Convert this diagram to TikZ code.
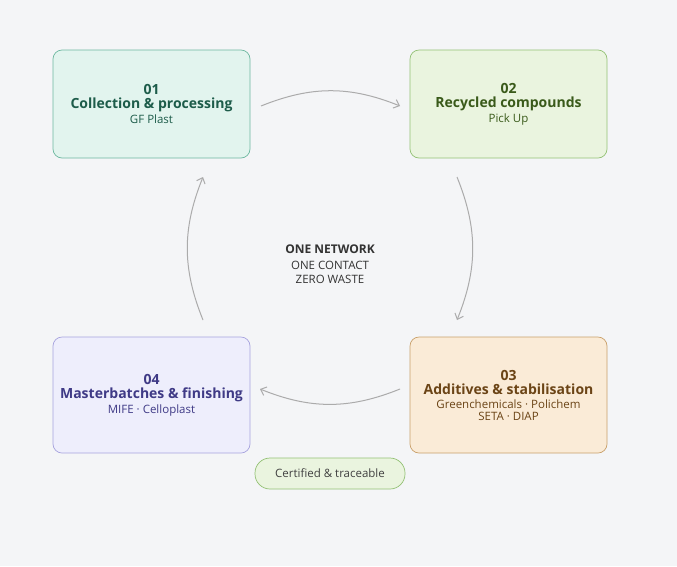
\documentclass[tikz,border=0pt]{standalone}
\usepackage{fontspec}
\setmainfont{Open Sans}
\usetikzlibrary{arrows.meta}
\definecolor{bg}{HTML}{F4F5F7}
\definecolor{fa}{HTML}{E2F4EE}\definecolor{da}{HTML}{6DB8A0}\definecolor{ta}{HTML}{1D5C4A}
\definecolor{fb}{HTML}{EAF4DF}\definecolor{db}{HTML}{93C174}\definecolor{tb}{HTML}{3A5A1A}
\definecolor{fc}{HTML}{FAEBD7}\definecolor{dc}{HTML}{C9A06A}\definecolor{tc}{HTML}{6B4416}
\definecolor{fd}{HTML}{EEEEFC}\definecolor{dd}{HTML}{A7A3DE}\definecolor{td}{HTML}{3F3A86}
\definecolor{arr}{HTML}{ABABAB}
\tikzset{
 card/.style={draw, rounded corners=9pt, minimum width=197pt, align=center, line width=0.7pt, inner sep=0pt},
 flow/.style={draw=arr, line width=1pt, -{Straight Barb[length=5pt,width=9pt]}},
}
\newcommand{\myhead}{\fontsize{14}{20}\selectfont\bfseries}
\newcommand{\mysub}{\fontsize{11.5}{16}\selectfont\mdseries}
\begin{document}
\begin{tikzpicture}[x=1pt,y=-1pt]
\fill[bg] (0,0) rectangle (677,566);
\useasboundingbox (0,0) rectangle (677,566);
\node[card, fill=fa, draw=da, text=ta, minimum height=108pt] (a) at (151.5,104) {\myhead 01\\[2pt]\myhead Collection \& processing\\[2pt]\mysub GF Plast};
\node[card, fill=fb, draw=db, text=tb, minimum height=108pt] (b) at (508.5,104) {\myhead 02\\[2pt]\myhead Recycled compounds\\[2pt]\mysub Pick Up};
\node[card, fill=fc, draw=dc, text=tc, minimum height=116pt] (c) at (508.5,395) {\myhead 03\\[2pt]\myhead Additives \& stabilisation\\[2pt]\mysub Greenchemicals · Polichem\\\mysub SETA · DIAP};
\node[card, fill=fd, draw=dd, text=td, minimum height=116pt] (d) at (151.5,395) {\myhead 04\\[2pt]\myhead Masterbatches \& finishing\\[2pt]\mysub MIFE · Celloplast};
\node[draw=db, fill=fb, rounded corners=15pt, minimum width=150pt, minimum height=31pt, line width=0.7pt, text=black!75, font=\fontsize{11.5}{14}\selectfont] (p) at (330,473.5) {Certified \& traceable};
\node[align=center, text=black!80] (m) at (330,264) {\fontsize{12}{16}\selectfont\bfseries ONE NETWORK\\[4pt]\mysub ONE CONTACT\\[2pt]\mysub ZERO WASTE};
\coordinate (a1) at (261,106); \coordinate (b1) at (400,106);
\coordinate (b2) at (457,177); \coordinate (c2) at (457,320);
\coordinate (c3) at (400,389); \coordinate (d3) at (260,389);
\coordinate (d4) at (203,320); \coordinate (a4) at (203,177);
\draw[flow] (a1) to[bend left=22] (b1);
\draw[flow] (b2) to[bend left=22] (c2);
\draw[flow] (c3) to[bend left=22] (d3);
\draw[flow] (d4) to[bend left=22] (a4);
\end{tikzpicture}
\end{document}
